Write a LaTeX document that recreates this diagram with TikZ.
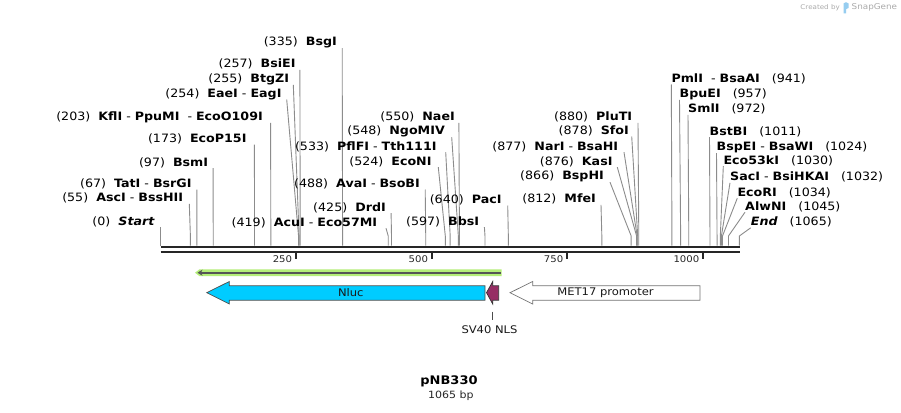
\documentclass[tikz,border=0pt]{standalone}
\usepackage{fontspec}
\usetikzlibrary{arrows.meta}
\setmainfont[FakeStretch=1.1]{DejaVu Sans}
\definecolor{cutgray}{RGB}{140,140,140}
\definecolor{nlucblue}{RGB}{0,204,255}
\definecolor{nlsred}{RGB}{150,45,100}
\definecolor{orfgreen}{RGB}{180,238,120}
\definecolor{orfdark}{RGB}{85,85,85}
\definecolor{logogray}{RGB}{170,170,170}
\definecolor{logoblue}{RGB}{150,205,240}
\tikzset{
  lab/.style={font=\fontsize{11.5}{13}\selectfont, inner sep=0pt, text=black},
  cutline/.style={draw=cutgray, line width=0.9pt},
  backbone/.style={draw=black!85, line width=2.6pt},
  featlab/.style={font=\fontsize{10.5}{12}\selectfont, inner sep=0pt, text=black!90},
}
\newcommand{\gp}{\hspace{12pt}}
\newcommand{\Lsite}[6]{%
  \node[lab, anchor=east] (#1) at ({#3},{#2}) {#6};
  \coordinate (#1-top) at ({#4},{#2+5.5});
  \coordinate (#1-bend) at ({160.5+0.5435*#5},236);
  \coordinate (#1-cut) at ({160.5+0.5435*#5},245.5);
  \draw[cutline] (#1-top) -- (#1-bend) -- (#1-cut);
}
\newcommand{\Rsite}[5]{%
  \node[lab, anchor=west] (#1) at ({#3},{#2}) {#5};
  \coordinate (#1-top) at ({#3},{#2+5.5});
  \coordinate (#1-bend) at ({160.5+0.5435*#4},236);
  \coordinate (#1-cut) at ({160.5+0.5435*#4},245.5);
  \draw[cutline] (#1-top) -- (#1-bend) -- (#1-cut);
}
\begin{document}
\begin{tikzpicture}[x=1pt,y=-1pt]
\useasboundingbox (0,0) rectangle (901,412);
\fill[white] (0,0) rectangle (901,412);

% left-side labels
\Lsite{s1}{42.7}{337}{342.2}{335}{(335)\ \ \textbf{BsgI}}
\Lsite{s2}{64.3}{295.7}{299.9}{257}{(257)\ \ \textbf{BsiEI}}
\Lsite{s3}{79.3}{289.3}{293.3}{255}{(255)\ \ \textbf{BtgZI}}
\Lsite{s4}{94}{281.7}{286.7}{254}{(254)\ \ \textbf{EaeI} - \textbf{EagI}}
\Lsite{s5}{117.3}{263}{270.6}{203}{(203)\ \ \textbf{KflI} - \textbf{PpuMI}\ \ - \textbf{EcoO109I}}
\Lsite{s6}{139}{246.7}{254.4}{173}{(173)\ \ \textbf{EcoP15I}}
\Lsite{s7}{162.7}{208.3}{213.1}{97}{(97)\ \ \textbf{BsmI}}
\Lsite{s8}{184}{191.7}{196.9}{67}{(67)\ \ \textbf{TatI} - \textbf{BsrGI}}
\Lsite{s9}{198.3}{183.3}{189.3}{55}{(55)\ \ \textbf{AscI} - \textbf{BssHII}}
\Lsite{s10}{221.7}{155}{160.5}{0}{(0)\ \ \textbf{\itshape Start}}
\Lsite{s11}{222.7}{377.3}{386}{419}{(419)\ \ \textbf{AcuI} - \textbf{Eco57MI}}
\Lsite{s12}{207.7}{386}{391.1}{425}{(425)\ \ \textbf{DrdI}}
\Lsite{s13}{184}{420}{425.2}{488}{(488)\ \ \textbf{AvaI} - \textbf{BsoBI}}
\Lsite{s14}{146.7}{436.7}{445.7}{533}{(533)\ \ \textbf{PflFI} - \textbf{Tth111I}}
\Lsite{s15}{161.7}{431.7}{438.3}{524}{(524)\ \ \textbf{EcoNI}}
\Lsite{s16}{131.7}{445}{451.7}{548}{(548)\ \ \textbf{NgoMIV}}
\Lsite{s17}{117.3}{455}{458.9}{550}{(550)\ \ \textbf{NaeI}}
\Lsite{s18}{200}{501.7}{507.7}{640}{(640)\ \ \textbf{PacI}}
\Lsite{s19}{221.7}{479.3}{484.4}{597}{(597)\ \ \textbf{BbsI}}
\Lsite{s20}{117.3}{632.3}{638}{880}{(880)\ \ \textbf{PluTI}}
\Lsite{s21}{131}{629}{631.7}{878}{(878)\ \ \textbf{SfoI}}
\Lsite{s22}{146.7}{618.3}{624}{877}{(877)\ \ \textbf{NarI} - \textbf{BsaHI}}
\Lsite{s23}{161.7}{612.7}{617.3}{876}{(876)\ \ \textbf{KasI}}
\Lsite{s24}{176.7}{604}{610}{866}{(866)\ \ \textbf{BspHI}}
\Lsite{s25}{199.3}{596}{601}{812}{(812)\ \ \textbf{MfeI}}

% right-side labels
\Rsite{s26}{79}{671.3}{941}{\textbf{PmlI}\ \ - \textbf{BsaAI}\gp(941)}
\Rsite{s27}{94.3}{679.5}{957}{\textbf{BpuEI}\gp(957)}
\Rsite{s28}{109.3}{688}{972}{\textbf{SmlI}\gp(972)}
\Rsite{s29}{131.7}{709.5}{1011}{\textbf{BstBI}\gp(1011)}
\Rsite{s30}{147.7}{716.5}{1024}{\textbf{BspEI} - \textbf{BsaWI}\gp(1024)}
\Rsite{s31}{160.7}{723.3}{1030}{\textbf{Eco53kI}\gp(1030)}
\Rsite{s32}{177.3}{730}{1032}{\textbf{SacI} - \textbf{BsiHKAI}\gp(1032)}
\Rsite{s33}{192.7}{737.3}{1034}{\textbf{EcoRI}\gp(1034)}
\Rsite{s34}{206.7}{745}{1045}{\textbf{AlwNI}\gp(1045)}
\Rsite{s35}{222.3}{750.7}{1065}{\textbf{\itshape End}\gp(1065)}

% backbone
\coordinate (bbL1) at (160.5,247);
\coordinate (bbR1) at (739.5,247);
\coordinate (bbL2) at (160.5,251.7);
\coordinate (bbR2) at (739.5,251.7);
\draw[backbone] (bbL1) -- (bbR1);
\draw[backbone, line width=2.4pt] (bbL2) -- (bbR2);

% scale ticks
\foreach \v/\xx in {250/295.8,500/431.7,750/567,1000/703} {
  \coordinate (tk\v a) at (\xx,252.5);
  \coordinate (tk\v b) at (\xx,259);
  \draw[black!85, line width=1.6pt] (tk\v a) -- (tk\v b);
  \node[font=\fontsize{9.2}{11}\selectfont, inner sep=0pt, anchor=east, text=black!85] (tl\v) at (\xx-3.5,259.5) {\v};
}

% ORF green arrow
\fill[orfgreen] (195,272.7) -- (199.5,269.3) -- (501.7,269.3) -- (501.7,276.1) -- (199.5,276.1) -- cycle;
\coordinate (orfR) at (500.5,272.7);
\coordinate (orfL) at (197.5,272.7);
\draw[orfdark, line width=2pt, -{Stealth[length=5pt,width=6pt]}] (orfR) -- (orfL);

% Nluc
\draw[fill=nlucblue, draw=black!70, line width=0.7pt] (206.7,292.7) -- (229.3,281.5) -- (229.3,285.8) -- (485,285.8) -- (485,300.2) -- (229.3,300.2) -- (229.3,304) -- cycle;
\node[featlab] (nluc) at (350.8,292.7) {Nluc};

% SV40 NLS
\draw[fill=nlsred, draw=black!80, line width=0.7pt] (486.5,292.7) -- (492.7,281.5) -- (492.7,285.8) -- (498.7,285.8) -- (498.7,300.2) -- (492.7,300.2) -- (492.7,304) -- cycle;
\node[featlab] (nlslab) at (489.5,330) {SV40 NLS};
\coordinate (nlsline) at (492.5,311.5);
\coordinate (nlsend) at (492.5,320);
\draw[black!70, line width=0.8pt] (nlsline) -- (nlsend);

% MET17 promoter
\draw[fill=white, draw=black!55, line width=0.7pt] (510,292.7) -- (532.7,281.5) -- (532.7,285.8) -- (700,285.8) -- (700,300.2) -- (532.7,300.2) -- (532.7,304) -- cycle;
\node[featlab] (met) at (605.5,292.7) {MET17 promoter};

% title
\node[font=\fontsize{11.8}{14}\selectfont\bfseries, inner sep=0pt] (title) at (449,381.5) {pNB330};
\node[font=\fontsize{10}{12}\selectfont, inner sep=0pt, text=black!85] (len) at (450.8,395.5) {1065 bp};

% logo
\node[font=\fontsize{6.5}{8}\selectfont, inner sep=0pt, text=logogray, anchor=east] (cby) at (840,7.5) {Created by};
\fill[logoblue] (843.5,13.5) -- (843.5,3.5) -- (846,2.2) -- (848.5,3.5) -- (848.5,8) -- (846,9.2) -- (846,13.5) -- cycle;
\node[font=\fontsize{8}{10}\selectfont, inner sep=0pt, text=logogray, anchor=west] (sg) at (851.5,7.8) {SnapGene};
\end{tikzpicture}
\end{document}
